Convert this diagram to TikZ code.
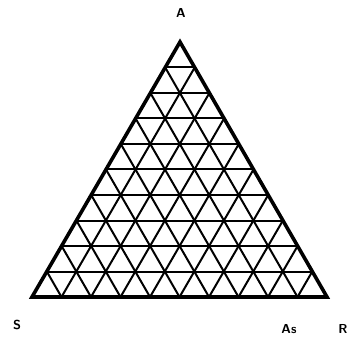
\documentclass[tikz,border=0pt]{standalone}
\usetikzlibrary{calc}
\begin{document}
\begin{tikzpicture}[x=1pt,y=-1pt,
  gridline/.style={line width=2pt},
  frame/.style={line width=3.6pt,line join=miter},
  lbl/.style={font=\sffamily\bfseries\fontsize{13}{13}\selectfont,inner sep=0pt}]
\useasboundingbox (0,0) rectangle (361,344);
\coordinate (S) at (32,297);
\coordinate (R) at (327,297);
\coordinate (A) at (180,42);
\foreach \i in {1,...,9}{
  \draw[gridline] ($(S)!\i/10!(A)$) -- ($(R)!\i/10!(A)$);
  \draw[gridline] ($(S)!\i/10!(R)$) -- ($(A)!\i/10!(R)$);
  \draw[gridline] ($(R)!\i/10!(S)$) -- ($(A)!\i/10!(S)$);
}
\draw[frame] (S) -- (R) -- (A) -- cycle;
\node[lbl] (lA) at (181,13) {A};
\node[lbl] (lS) at (17,325) {S};
\node[lbl] (lAs) at (289,329) {As};
\node[lbl] (lR) at (343,329) {R};
\end{tikzpicture}
\end{document}
